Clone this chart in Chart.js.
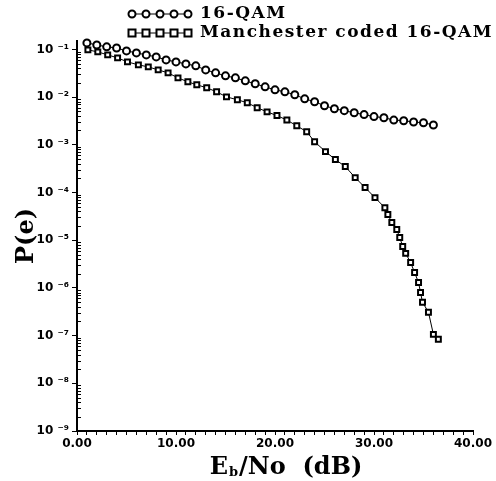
<!DOCTYPE html>
<html>
<head>
<meta charset="utf-8">
<script src="https://cdn.jsdelivr.net/npm/chart.js@4.4.0/dist/chart.umd.min.js"></script>
<style>
  html, body { margin: 0; padding: 0; background: #fff; }
  #wrap { width: 496px; height: 481px; }
</style>
</head>
<body>
<div id="wrap"><canvas id="chart" width="496" height="481"></canvas></div>
<script>
// values (Eb/No in dB, P(e) on log axis)
const qamLabel = '16-QAM';
const qamDb = [1, 2, 3, 4, 5, 6, 7, 8, 9, 10, 11, 12, 13, 14, 15, 16, 17, 18,
    19, 20, 21, 22, 23, 24, 25, 26, 27, 28, 29, 30, 31, 32, 33, 34, 35, 36];
const qamPe = [0.137, 0.124, 0.113, 0.107, 0.093, 0.0845, 0.0767, 0.0697, 0.0603,
    0.0547, 0.0497, 0.0452, 0.0372, 0.0322, 0.0279, 0.0253, 0.0219, 0.0190,
    0.0164, 0.0142, 0.0129, 0.0112, 0.0092, 0.0080, 0.0066, 0.0057, 0.0052,
    0.0047, 0.0043, 0.0039, 0.0037, 0.0033, 0.0032, 0.0030, 0.0029, 0.0026];

const manLabel = 'Manchester coded 16-QAM';
const manDb = [1.1, 2.1, 3.1, 4.1, 5.1, 6.2, 7.2, 8.2, 9.2, 10.2, 11.2, 12.1, 13.1,
    14.1, 15.1, 16.2, 17.2, 18.2, 19.2, 20.2, 21.2, 22.2, 23.2, 24.0, 25.1, 26.1,
    27.1, 28.1, 29.1, 30.1, 31.1, 31.4, 31.8, 32.3, 32.6, 32.9, 33.2, 33.7, 34.1,
    34.5, 34.7, 34.9, 35.5, 36.0, 36.5];
const manPe = [0.0977, 0.0887, 0.0767, 0.0664, 0.0547, 0.0474, 0.0430, 0.0372,
    0.0322, 0.0253, 0.0209, 0.0181, 0.0157, 0.0129, 0.0101, 0.0088, 0.0076,
    0.0060, 0.0049, 0.0041, 0.0033, 0.0025, 0.00188, 0.00116, 0.00072, 0.00049,
    0.00035, 0.000205, 0.000127, 7.8e-5, 4.8e-5, 3.45e-5, 2.35e-5, 1.67e-5,
    1.14e-5, 7.4e-6, 5.3e-6, 3.4e-6, 2.1e-6, 1.3e-6, 8.0e-7, 5.0e-7, 3.1e-7,
    1.06e-7, 8.4e-8];

const xMin = 0, xMax = 40;
const yMin = 1e-9, yMax = 0.15;
const supDigits = { '-': '\u207B', '0': '\u2070', '1': '\u00B9', '2': '\u00B2', '3': '\u00B3',
    '4': '\u2074', '5': '\u2075', '6': '\u2076', '7': '\u2077', '8': '\u2078', '9': '\u2079' };

const toPoints = (xs, ys) => xs.map((x, i) => ({ x: x, y: ys[i] }));
const isPow10 = v => Math.abs(Math.log10(v) - Math.round(Math.log10(v))) < 1e-6;
const serif = '"DejaVu Serif", "Liberation Serif", serif';

function drawMarker(ctx, style, x, y) {
    ctx.save();
    ctx.fillStyle = '#fff';
    ctx.strokeStyle = '#000';
    ctx.lineWidth = 2;
    ctx.beginPath();
    if (style === 'circle') {
        ctx.arc(x, y, 3.5, 0, Math.PI * 2);
    } else {
        ctx.rect(x - 3.5, y - 3.5, 7, 7);
    }
    ctx.fill();
    ctx.stroke();
    ctx.restore();
}

const extras = {
    id: 'extras',
    afterDraw(chart) {
        const ctx = chart.ctx;
        const ys = chart.scales.y;
        const xs = chart.scales.x;
        const area = chart.chartArea;

        // minor log ticks, pointing into the plot
        ctx.save();
        ctx.strokeStyle = '#000';
        ctx.lineWidth = 1;
        for (let e = -9; e <= -1; e++) {
            for (let m = 2; m <= 9; m++) {
                const v = m * Math.pow(10, e);
                if (v > yMax) continue;
                const py = Math.round(ys.getPixelForValue(v)) + 0.5;
                ctx.beginPath();
                ctx.moveTo(area.left, py);
                ctx.lineTo(area.left + 4, py);
                ctx.stroke();
            }
        }
        ctx.restore();

        // y axis title
        ctx.save();
        ctx.fillStyle = '#000';
        ctx.font = 'bold 24px ' + serif;
        ctx.textAlign = 'center';
        ctx.textBaseline = 'middle';
        ctx.translate(27, 236);
        ctx.rotate(-Math.PI / 2);
        ctx.fillText('P(e)', 0, 0);
        ctx.restore();

        // x axis title with subscript b
        ctx.save();
        ctx.fillStyle = '#000';
        ctx.textBaseline = 'alphabetic';
        const big = 'bold 24px ' + serif;
        const small = 'bold 13px ' + serif;
        const partA = 'E', partB = 'b', partC = '/No  (dB)';
        ctx.font = big;
        const wA = ctx.measureText(partA).width;
        const wC = ctx.measureText(partC).width;
        ctx.font = small;
        const wB = ctx.measureText(partB).width;
        const total = wA + wB + 2 + wC;
        let tx = (xs.left + xs.right) / 2 + 11 - total / 2;
        const base = 474;
        ctx.font = big;
        ctx.fillText(partA, tx, base);
        tx += wA + 1;
        ctx.font = small;
        ctx.fillText(partB, tx, base + 2);
        tx += wB + 1;
        ctx.font = big;
        ctx.fillText(partC, tx, base);
        ctx.restore();

        // legend: five sample markers then the label
        const rows = [
            { style: 'circle', text: qamLabel, y: 14 },
            { style: 'rect', text: manLabel, y: 33 }
        ];
        ctx.save();
        rows.forEach(r => {
            ctx.strokeStyle = '#000';
            ctx.lineWidth = 1;
            ctx.beginPath();
            ctx.moveTo(131, r.y);
            ctx.lineTo(188, r.y);
            ctx.stroke();
            for (let k = 0; k < 5; k++) {
                drawMarker(ctx, r.style, 132 + k * 14, r.y);
            }
            ctx.fillStyle = '#000';
            ctx.font = 'bold 17px ' + serif;
            ctx.letterSpacing = '1.5px';
            ctx.textBaseline = 'middle';
            ctx.textAlign = 'left';
            ctx.fillText(r.text, 200, r.y);
        });
        ctx.restore();
    }
};

const datasetStyle = {
    borderColor: '#000',
    borderWidth: 1,
    pointBorderColor: '#000',
    pointBackgroundColor: '#fff',
    pointBorderWidth: 2,
    pointRadius: 3.5,
    pointHoverRadius: 3.5,
    tension: 0,
    clip: false
};

new Chart(document.getElementById('chart'), {
    type: 'line',
    data: {
        datasets: [
            Object.assign({ label: qamLabel, data: toPoints(qamDb, qamPe), pointStyle: 'circle' }, datasetStyle),
            Object.assign({ label: manLabel, data: toPoints(manDb, manPe), pointStyle: 'rect' }, datasetStyle)
        ]
    },
    options: {
        responsive: false,
        animation: false,
        devicePixelRatio: 1,
        layout: { padding: { top: 41, right: 23, left: 0, bottom: 0 } },
        plugins: {
            legend: { display: false },
            tooltip: { enabled: false }
        },
        scales: {
            x: {
                type: 'linear',
                min: xMin,
                max: xMax,
                afterFit: s => { s.height = 50; },
                border: { color: '#000', width: 2 },
                grid: { drawOnChartArea: false, color: '#000', tickLength: 4, tickWidth: 1 },
                ticks: {
                    stepSize: 1,
                    autoSkip: false,
                    maxRotation: 0,
                    padding: 2,
                    color: '#000',
                    font: { family: '"DejaVu Sans", sans-serif', weight: 'bold', size: 12 },
                    callback: v => (v % 10 === 0 ? v.toFixed(2) : '')
                }
            },
            y: {
                type: 'logarithmic',
                min: yMin,
                max: yMax,
                afterFit: s => { s.width = 77; },
                border: { color: '#000', width: 2 },
                grid: { drawOnChartArea: false, color: '#000', tickLength: 5, tickWidth: 1 },
                ticks: {
                    autoSkip: false,
                    padding: 3,
                    color: '#000',
                    font: { family: '"DejaVu Sans", sans-serif', weight: 'bold', size: 12 },
                    callback: v => {
                        if (!isPow10(v)) return null;
                        const e = String(Math.round(Math.log10(v)));
                        return '10 ' + e.split('').map(c => supDigits[c]).join('');
                    }
                }
            }
        }
    },
    plugins: [extras]
});
</script>
</body>
</html>
